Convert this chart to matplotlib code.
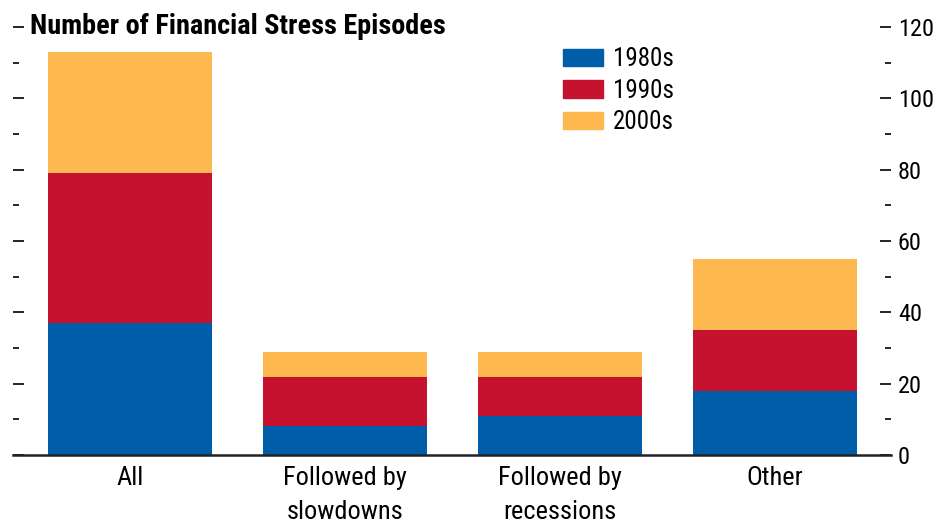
import matplotlib
matplotlib.use('Agg')
import matplotlib.pyplot as plt
from matplotlib.ticker import MultipleLocator
from matplotlib.patches import Patch

categories = ['All', 'Followed by\nslowdowns', 'Followed by\nrecessions', 'Other']
decades = ['1980s', '1990s', '2000s']
v1980s = [37, 8, 11, 18]
v1990s = [42, 14, 11, 17]
v2000s = [34, 7, 7, 20]
colors = ['#005DAA', '#C4122F', '#FDB94F']

plt.rcParams['font.family'] = ['Roboto Condensed', 'DejaVu Sans']
plt.rcParams['font.stretch'] = 'condensed'

fig = plt.figure(figsize=(9.4, 5.25), dpi=100)
ax = fig.add_axes([13 / 940, 1 - 455 / 525, (891 - 13) / 940, (455 - 27) / 525])

x = range(len(categories))
bottom = [0] * len(categories)
for vals, c in zip([v1980s, v1990s, v2000s], colors):
    ax.bar(x, vals, width=0.76, bottom=bottom, color=c, zorder=2)
    bottom = [b + v for b, v in zip(bottom, vals)]

ax.set_xlim(-0.544, 3.54)
ax.set_ylim(0, 120)
ax.set_xticks(list(x))
ax.set_xticklabels(categories, fontsize=19, linespacing=1.5)
ax.yaxis.set_major_locator(MultipleLocator(20))
ax.yaxis.set_minor_locator(MultipleLocator(10))
ax.tick_params(axis='x', length=0, pad=8)
ax.tick_params(axis='y', which='both', direction='in', left=True, right=True,
               labelleft=False, labelright=True, labelsize=17.5, pad=5)
ax.tick_params(axis='y', which='major', length=8, width=1.2)
ax.tick_params(axis='y', which='minor', length=4, width=1.2)

for s in ['left', 'right', 'top']:
    ax.spines[s].set_visible(False)
ax.spines['bottom'].set_linewidth(1.8)
ax.spines['bottom'].set_color('#222222')
ax.spines['bottom'].set_zorder(3)

fig.text(30 / 940, 1 - 26 / 525, 'Number of Financial Stress Episodes',
         fontsize=20.3, fontweight='bold', va='center', ha='left')

handles = [Patch(color=c, label=d) for c, d in zip(colors, decades)]
ax.legend(handles=handles, loc='upper left', bbox_to_anchor=(563 / 940, 1 - 47 / 525),
          bbox_transform=fig.transFigure, frameon=False, fontsize=18,
          handlelength=1.6, handleheight=0.7, handletextpad=0.4,
          labelspacing=0.3, borderpad=0, borderaxespad=0)

fig.savefig('out.png', dpi=100)
